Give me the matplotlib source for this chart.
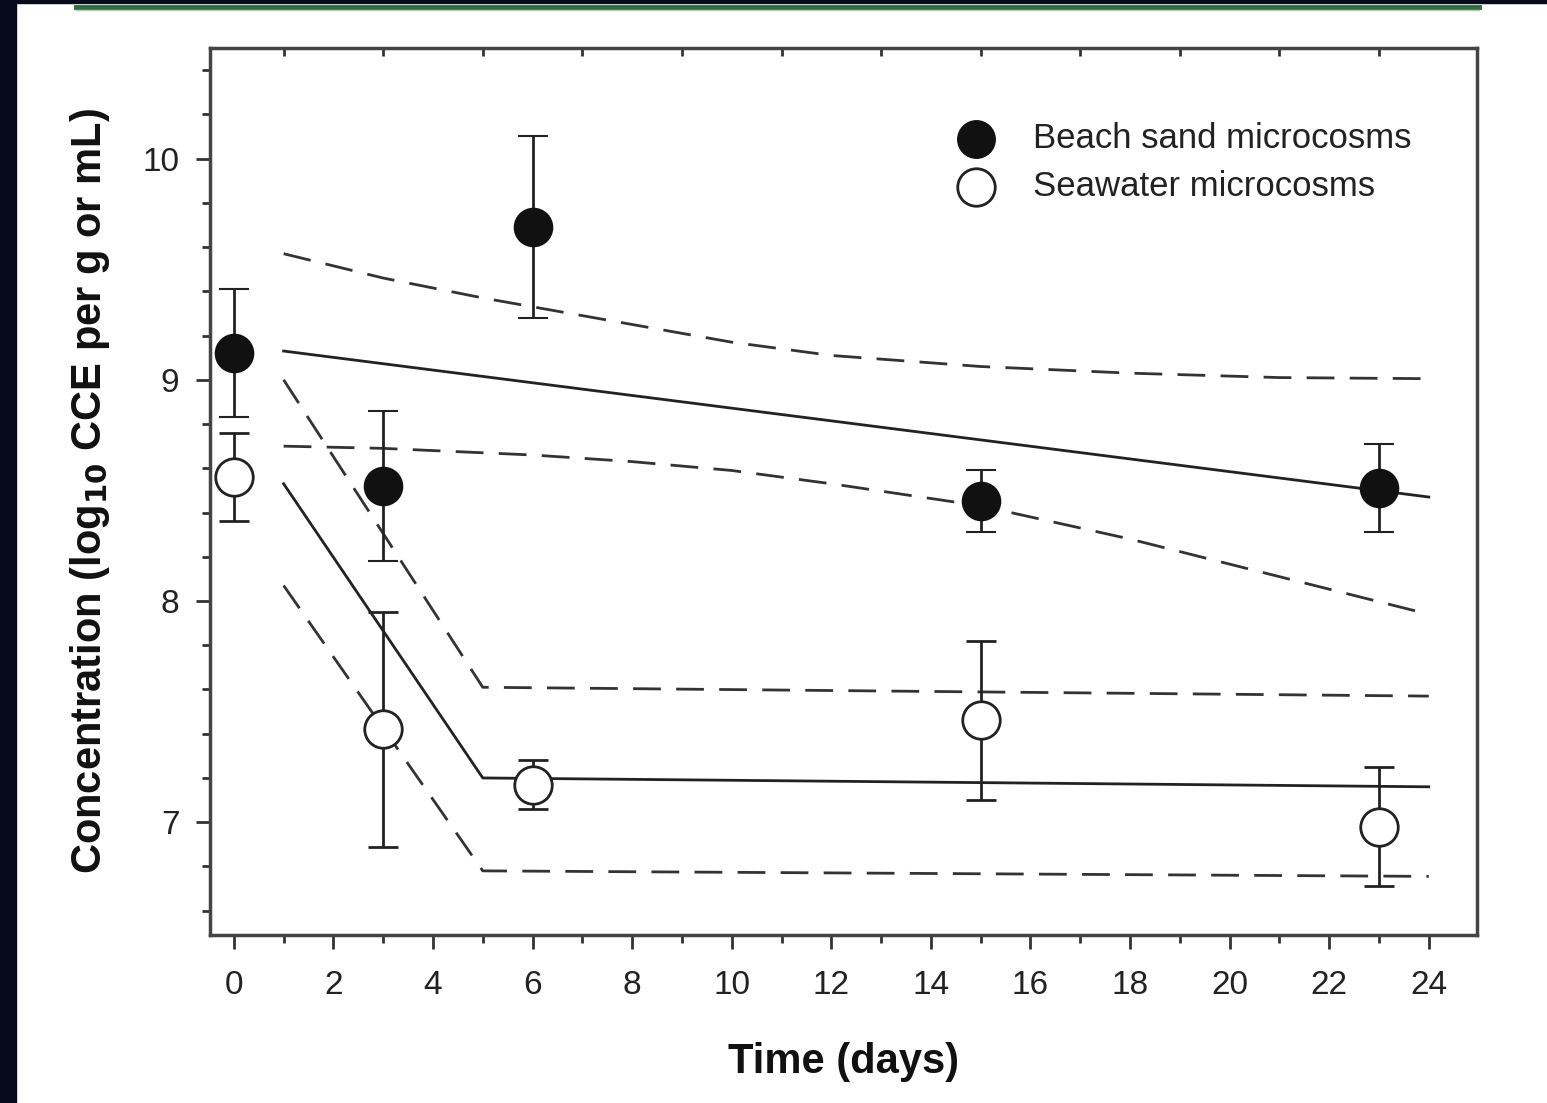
import numpy as np
import matplotlib.pyplot as plt
from matplotlib.lines import Line2D
from matplotlib.patches import Rectangle

plt.rcParams['font.family'] = ['Liberation Sans', 'DejaVu Sans']

# measured points (days, log10 CCE)
t_obs = [0, 3, 6, 15, 23]
sand_y = [9.12, 8.52, 9.69, 8.45, 8.51]
sand_err = [0.29, 0.34, 0.41, 0.14, 0.20]
sea_y = [8.56, 7.42, 7.17, 7.46, 6.98]
sea_err = [0.20, 0.53, 0.11, 0.36, 0.27]

# model fits and bounds
t_sand = [1, 24]
sand_fit = [9.13, 8.47]
t_sand_b = [1, 3, 5, 6, 8, 10, 12, 15, 18, 21, 24]
sand_hi = [9.57, 9.46, 9.37, 9.33, 9.25, 9.17, 9.11, 9.06, 9.03, 9.01, 9.005]
sand_lo = [8.70, 8.69, 8.67, 8.66, 8.63, 8.59, 8.53, 8.43, 8.28, 8.11, 7.94]

t_sea = [1, 5, 24]
sea_fit = [8.53, 7.20, 7.16]
sea_hi = [9.00, 7.61, 7.57]
sea_lo = [8.07, 6.78, 6.755]

fig = plt.figure(figsize=(15.47, 11.03), dpi=100)
fig.patch.set_facecolor('white')

# slide decoration
fig.add_artist(Rectangle((0, 0), 0.0105, 1, transform=fig.transFigure, color='#070a1c', zorder=0))
fig.add_artist(Rectangle((0, 0.9975), 1, 0.0025, transform=fig.transFigure, color='#070a1c', zorder=0))
fig.add_artist(Line2D([0.049, 0.956], [0.9935, 0.9935], transform=fig.transFigure, color='#2f6b3f', lw=3.5))
fig.add_artist(Line2D([0.049, 0.956], [0.9905, 0.9905], transform=fig.transFigure, color='#a9c9b0', lw=1))

ax = fig.add_axes([0.1357, 0.1523, 0.8191, 0.8042])

dash = (0, (10, 5.5))
ax.plot(t_sand, sand_fit, color='#222222', lw=2)
ax.plot(t_sand_b, sand_hi, color='#333333', lw=2, linestyle=dash)
ax.plot(t_sand_b, sand_lo, color='#333333', lw=2, linestyle=dash)
ax.plot(t_sea, sea_fit, color='#222222', lw=2)
ax.plot(t_sea, sea_hi, color='#333333', lw=2, linestyle=dash)
ax.plot(t_sea, sea_lo, color='#333333', lw=2, linestyle=dash)

ax.errorbar(t_obs, sand_y, yerr=sand_err, fmt='o', color='#111111', ms=27,
            mec='#111111', mfc='#111111', mew=1.5, ecolor='#222222', elinewidth=2,
            capsize=11, capthick=2, zorder=3)
ax.errorbar(t_obs, sea_y, yerr=sea_err, fmt='o', color='#111111', ms=27,
            mec='#222222', mfc='white', mew=2, ecolor='#222222', elinewidth=2,
            capsize=11, capthick=2, zorder=3)

# legend as markers + text
ax.plot([14.9], [10.09], 'o', ms=27, mfc='#111111', mec='#111111')
ax.plot([14.9], [9.873], 'o', ms=27, mfc='white', mec='#222222', mew=2)
ax.text(16.05, 10.09, 'Beach sand microcosms', fontsize=25, va='center', color='#222222')
ax.text(16.05, 9.873, 'Seawater microcosms', fontsize=25, va='center', color='#222222')

ax.set_xlim(-0.48, 24.97)
ax.set_ylim(6.49, 10.5)
ax.set_xticks(np.arange(0, 25, 2))
ax.set_xticks(np.arange(1, 25, 2), minor=True)
ax.set_yticks([7, 8, 9, 10])
ax.set_yticks(np.arange(6.6, 10.5, 0.2), minor=True)

ax.tick_params(axis='both', which='major', labelsize=24, length=10, width=2, color='#333333',
               labelcolor='#222222', direction='out', pad=12)
ax.tick_params(axis='x', which='major', pad=15)
ax.tick_params(axis='both', which='minor', length=6, width=2, color='#333333', direction='out')

# top inward ticks at odd days
top = ax.secondary_xaxis('top')
top.set_xticks(np.arange(1, 25, 2))
top.minorticks_off()
top.tick_params(direction='in', length=6, width=2, color='#333333', labeltop=False)
top.set_xticklabels([])

for s in ax.spines.values():
    s.set_linewidth(2.5)
    s.set_color('#444444')
top.spines['top'].set_visible(False)

ax.set_xlabel('Time (days)', fontsize=30, fontweight='bold', labelpad=30, color='#111111')
ax.set_ylabel('Concentration (log$_{\\mathbf{10}}$ CCE per g or mL)', fontsize=30,
              fontweight='bold', labelpad=22, color='#111111')

fig.savefig('out.png', dpi=100)
